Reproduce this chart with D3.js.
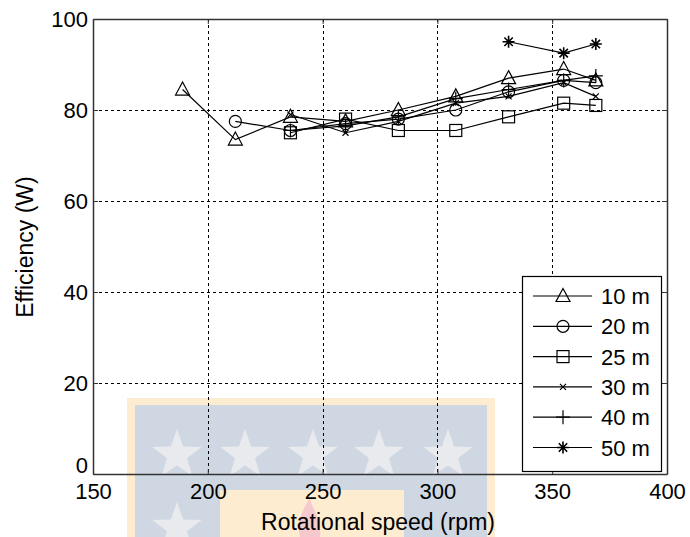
<!DOCTYPE html>
<html><head><meta charset="utf-8">
<script src="https://cdn.jsdelivr.net/npm/d3@7"></script>
<style>body{margin:0;background:#fff}svg{display:block}text{font-family:"Liberation Sans",Arial,sans-serif;fill:#000}</style>
</head><body><svg id="c" width="690" height="537"></svg>
<script>
const seriesNames = ["10 m","20 m","25 m","30 m","40 m","50 m"];
const markers = ["triangle","circle","square","x","plus","star"];
const rpm10 = [189,212,236,260,283,308,331,355,369];
const eff10 = [84.5,73.5,78.5,77.5,80,83,87,89,86.5];
const rpm20 = [212,236,260,283,308,331,355,369];
const eff20 = [77.5,75.5,77,78,80,84,86.5,86];
const rpm25 = [236,260,283,308,331,355,369];
const eff25 = [75,78,75.5,75.5,78.5,81.5,81];
const rpm30 = [236,260,283,308,331,355,369];
const eff30 = [79,75,77.5,81.5,83,86,83];
const rpm40 = [236,260,283,308,331,355,369];
const eff40 = [75.5,76.5,78.5,82.5,84.5,86.5,87.5];
const rpm50 = [331,355,369];
const eff50 = [95,92.5,94.5];
const xTicks = [150,200,250,300,350,400];
const yTicks = [0,20,40,60,80,100];
const xLabel = "Rotational speed (rpm)";
const yLabel = "Efficiency (W)";

const rpms = [rpm10,rpm20,rpm25,rpm30,rpm40,rpm50];
const effs = [eff10,eff20,eff25,eff30,eff40,eff50];
const series = seriesNames.map((n,i)=>({name:n, marker:markers[i], pts:rpms[i].map((r,j)=>[r,effs[i][j]])}));

const L=93,R=667,T=19,B=474;
const x = d3.scaleLinear().domain([150,400]).range([L,R]);
const y = d3.scaleLinear().domain([0,100]).range([B,T]);
const svg = d3.select("#c");

// watermark (background decoration)
const wm = svg.append("g");
wm.append("rect").attr("x",127).attr("y",398).attr("width",368).attr("height",140).attr("fill","#fdeccf");
wm.append("rect").attr("x",135).attr("y",405).attr("width",352).attr("height",133).attr("fill","#cfd8e2");
wm.append("rect").attr("x",220).attr("y",490).attr("width",184).attr("height",48).attr("fill","#fdeccf");
function starPath(cx,cy,ro,ri){let p=[];for(let k=0;k<10;k++){const a=-Math.PI/2+k*Math.PI/5;const r=k%2?ri:ro;p.push([cx+r*Math.cos(a),cy+r*Math.sin(a)]);}return "M"+p.map(q=>q.join(",")).join("L")+"Z";}
[[177,455],[245,455],[313,455],[379,455],[448,455],[177,528]].forEach(s=>wm.append("path").attr("d",starPath(s[0],s[1],26,10.5)).attr("fill","#e9eaee"));
wm.append("path").attr("d","M300,537 C296,520 304,508 310,498 C312,510 322,518 320,537 Z").attr("fill","#f6c9cf");

// grid
const grid = svg.append("g").attr("stroke","#000").attr("stroke-width",1).attr("stroke-dasharray","3,3");
xTicks.slice(1,-1).forEach(t=>grid.append("line").attr("x1",Math.round(x(t))+0.5).attr("x2",Math.round(x(t))+0.5).attr("y1",T).attr("y2",B));
yTicks.slice(1,-1).forEach(t=>grid.append("line").attr("y1",Math.round(y(t))+0.5).attr("y2",Math.round(y(t))+0.5).attr("x1",L).attr("x2",R));

// axes via d3 axis
const fs = 22;
const gx = svg.append("g").attr("transform",`translate(0,${B})`).call(d3.axisBottom(x).tickValues(xTicks).tickSizeInner(-5).tickSizeOuter(0).tickPadding(9));
const gy = svg.append("g").attr("transform",`translate(${L},0)`).call(d3.axisLeft(y).tickValues(yTicks).tickSizeInner(-5).tickSizeOuter(0).tickPadding(5));
const gx2 = svg.append("g").attr("transform",`translate(0,${T})`).call(d3.axisTop(x).tickValues(xTicks).tickSizeInner(-5).tickSizeOuter(0).tickFormat(""));
const gy2 = svg.append("g").attr("transform",`translate(${R},0)`).call(d3.axisRight(y).tickValues(yTicks).tickSizeInner(-5).tickSizeOuter(0).tickFormat(""));
[gx,gy,gx2,gy2].forEach(g=>{g.select(".domain").attr("stroke","#333").attr("stroke-width",1.5);g.selectAll(".tick line").attr("stroke","#333");g.selectAll("text").attr("font-size",fs).attr("font-family","Liberation Sans, Arial").attr("fill","#000");});
gy.selectAll(".tick").filter(d=>d===0).select("text").attr("dy","-0.05em");
gx.selectAll("text").attr("dy","0.72em");

// labels
svg.append("text").attr("x",378).attr("y",530).attr("text-anchor","middle").attr("font-size",23).text(xLabel);
svg.append("text").attr("transform","translate(33,247) rotate(-90)").attr("text-anchor","middle").attr("font-size",23).text(yLabel);

// markers
function drawMarker(g,type,cx,cy){
  const s = g.append("g").attr("transform",`translate(${cx},${cy})`).attr("stroke","#000").attr("stroke-width",1.2).attr("fill","none");
  if(type==="triangle") s.append("path").attr("d","M0,-7.5L7,5.5L-7,5.5Z");
  else if(type==="circle") s.append("circle").attr("r",6);
  else if(type==="square") s.append("rect").attr("x",-6).attr("y",-6).attr("width",12).attr("height",12);
  else if(type==="x") s.append("path").attr("d","M-3,-3L3,3M-3,3L3,-3");
  else if(type==="plus") s.append("path").attr("d","M0,-7L0,7M-7,0L7,0");
  else if(type==="star") s.append("path").attr("d","M0,-6L0,6M-6,0L6,0M-4.2,-4.2L4.2,4.2M-4.2,4.2L4.2,-4.2").attr("stroke-width",1.6);
}
const line = d3.line().x(d=>x(d[0])).y(d=>y(d[1]));
const plot = svg.append("g");
series.forEach(s=>{
  plot.append("path").attr("d",line(s.pts)).attr("fill","none").attr("stroke","#000").attr("stroke-width",1.2);
});
series.forEach(s=>{ s.pts.forEach(p=>drawMarker(plot,s.marker,x(p[0]),y(p[1]))); });

// legend
const lg = svg.append("g");
lg.append("rect").attr("x",522.5).attr("y",276.5).attr("width",139).attr("height",195).attr("fill","#fff").attr("stroke","#000").attr("stroke-width",1.2);
series.forEach((s,i)=>{
  const yy = 296 + i*30.3;
  lg.append("line").attr("x1",533).attr("x2",592).attr("y1",yy).attr("y2",yy).attr("stroke","#000").attr("stroke-width",1.2);
  drawMarker(lg,s.marker,563,yy);
  lg.append("text").attr("x",601).attr("y",yy+8).attr("font-size",22).text(s.name);
});
</script></body></html>
